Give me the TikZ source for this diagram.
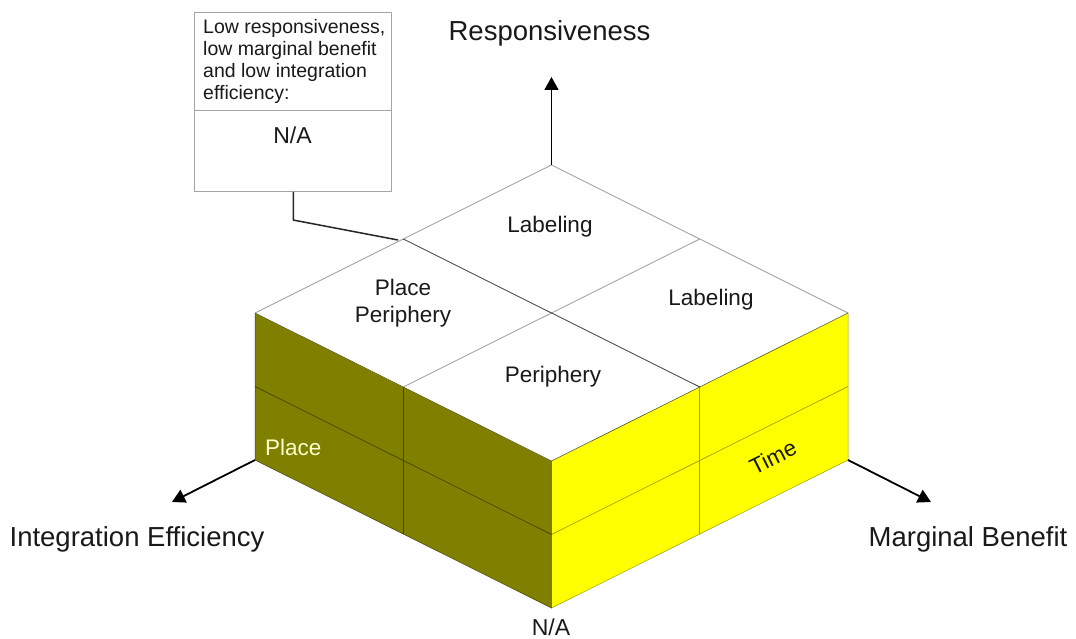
\documentclass[tikz,border=0pt]{standalone}
\usepackage{fontspec}
\setmainfont{Liberation Sans}
\usetikzlibrary{arrows.meta}
\definecolor{olivef}{RGB}{128,128,0}
\definecolor{olivel}{RGB}{70,70,0}
\definecolor{yellowf}{RGB}{255,255,0}
\definecolor{yellowl}{RGB}{160,160,0}
\definecolor{edgegray}{RGB}{165,165,165}
\definecolor{darkline}{RGB}{80,80,80}
\definecolor{cream}{RGB}{255,255,205}
\definecolor{txt}{RGB}{25,25,25}
\begin{document}
\begin{tikzpicture}[x=1pt,y=-1pt,
  axis/.style={line width=1.8pt,-{Triangle[length=13pt,width=14pt]}},
  biglabel/.style={font=\fontsize{27.5}{33}\selectfont,text=txt,anchor=base,inner sep=0pt},
  facelabel/.style={font=\fontsize{22.5}{27}\selectfont,text=txt,anchor=base,inner sep=0pt,align=center},
  boxtext/.style={font=\fontsize{19.5}{22}\selectfont,text=txt,inner sep=0pt},
  topedge/.style={draw=edgegray,line width=0.9pt},
]
\useasboundingbox (0,0) rectangle (1076,639);
% key points
\coordinate (T) at (551.5,165);
\coordinate (L) at (255,313);
\coordinate (R) at (848,313);
\coordinate (F) at (551.5,461);
\coordinate (Lb) at (255,460);
\coordinate (Rb) at (848,460);
\coordinate (Fb) at (551.5,608);
\coordinate (mTL) at (403.25,239);
\coordinate (mTR) at (699.75,239);
\coordinate (mLF) at (403.25,387);
\coordinate (mFR) at (699.75,387);
\coordinate (mLFb) at (403.25,534);
\coordinate (mFRb) at (699.75,534);
\coordinate (mL) at (255,386.5);
\coordinate (mF) at (551.5,534.5);
\coordinate (mR) at (848,386.5);
% faces
\fill[olivef] (L) -- (F) -- (Fb) -- (Lb) -- cycle;
\fill[yellowf] (F) -- (R) -- (Rb) -- (Fb) -- cycle;
\fill[white] (T) -- (R) -- (F) -- (L) -- cycle;
% face dividers
\draw[olivel,line width=0.7pt] (mLF) -- (mLFb);
\draw[olivel,line width=0.7pt] (mL) -- (mF);
\draw[yellowl,line width=0.7pt] (mFR) -- (mFRb);
\draw[yellowl,line width=0.7pt] (mF) -- (mR);
\draw[olivel,line width=0.5pt] (L) -- (Lb) -- (Fb) -- (F);
\draw[yellowl,line width=0.5pt] (Fb) -- (Rb) -- (R);
% top face
\draw[topedge] (T) -- (R);
\draw[topedge] (T) -- (L);
\draw[topedge] (mTR) -- (mLF);
\draw[olivel!70!gray,line width=0.6pt] (L) -- (F) -- (R);
\draw[darkline,line width=0.9pt] (mTL) -- (mFR);
% axes
\coordinate (upTip) at (551.5,77);
\coordinate (leftTip) at (172,502);
\coordinate (rightTip) at (931,502);
\draw[axis] (T) -- (upTip);
\draw[axis] (Lb) -- (leftTip);
\draw[axis] (Rb) -- (rightTip);
% axis labels
\node[biglabel] (resp) at (549.5,41) {Responsiveness};
\node[biglabel] (integ) at (137,546) {Integration Efficiency};
\node[biglabel] (marg) at (968,546) {Marginal Benefit};
\node[facelabel,font=\fontsize{23}{27}\selectfont] (na) at (551,635) {N/A};
% face labels
\node[facelabel] (lab1) at (550,233) {Labeling};
\node[facelabel] (pp) at (403,322) {Place\\Periphery};
\node[facelabel] (lab2) at (711,305) {Labeling};
\node[facelabel] (peri) at (553,382) {Periphery};
\node[facelabel,text=cream,anchor=base west] (place) at (265,455) {Place};
\node[facelabel,anchor=center,rotate=26.5] (time) at (773,457) {Time};
% callout box
\node[draw=edgegray,line width=0.9pt,minimum width=197pt,minimum height=179pt,inner sep=0pt,anchor=north west,fill=white] (box) at (194,12) {};
\draw[edgegray,line width=0.9pt] (194,110) -- (391,110);
\node[boxtext,anchor=base west,align=left,font=\fontsize{19.5}{22}\selectfont] (boxtxt) at (203,100) {Low responsiveness,\\low marginal benefit\\and low integration\\efficiency:};
\node[facelabel,font=\fontsize{23}{27}\selectfont] (boxna) at (292.5,144) {N/A};
\coordinate (callEnd) at (398,240);
\draw[black!85,line width=1.5pt] ([xshift=0.5pt]box.south) |- (293,220) -- (callEnd);
\end{tikzpicture}
\end{document}
